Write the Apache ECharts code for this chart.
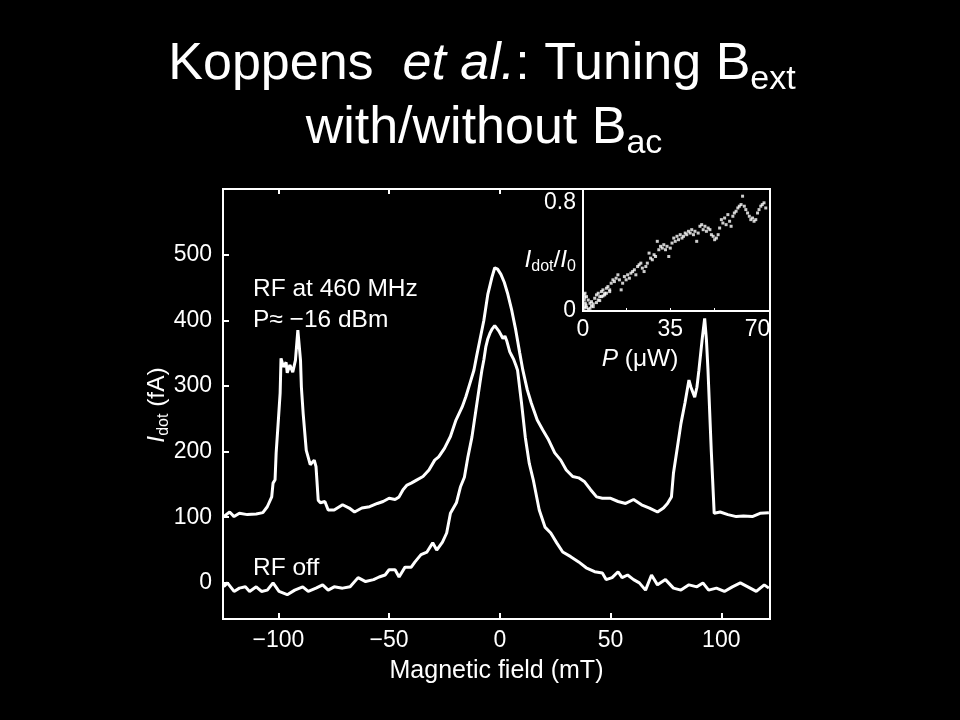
<!DOCTYPE html>
<html><head><meta charset="utf-8">
<script src="https://cdn.jsdelivr.net/npm/echarts@6/dist/echarts.min.js"></script>
<style>html,body{margin:0;padding:0;background:#000;}#c{width:960px;height:720px;}</style>
</head><body><div id="c"></div>
<script>
// ---- data ----
const rfOnField = [-124.7,-122,-120,-117.6,-114,-110,-107,-105,-103,-102.4,-101.5,-101,-100,-99.2,-98.8,-97.7,-96.5,-96,-94.8,-93.5,-92.3,-91.2,-90,-89.6,-88.8,-87.4,-85.6,-83.8,-83,-82,-81,-79,-77.5,-74.8,-71,-68,-65.6,-62.3,-58.8,-55.3,-52.7,-50,-47.3,-45.5,-43.7,-41.9,-40,-37.4,-34.7,-32,-29.4,-27.6,-25,-22.3,-19.8,-17,-15.3,-13.5,-11.7,-10.5,-9,-7.2,-5.4,-3.6,-2.3,-1,0.5,2,3.6,5.4,7.2,9,10.4,12.4,14.2,16.9,19.4,22,24.8,27.5,30,32.9,35.6,38.3,41,43.7,46.3,49.8,53.4,56.8,60.4,64,67.6,71.2,73.9,75.7,77.5,78.4,80.2,81.8,83.6,85.4,86.3,88,89,89.9,91.5,92.5,93.3,94,95.5,96.8,99.5,103,106.8,110,114,117.5,121.5];
const rfOnCurrent = [101,108,101,106,104,105,107,116,131,152,157,198,248,289,342,329,336,320,332,321,339,385,339,298,258,202,180,187,177,126,122,124,111,111,119,114,108,114,116,121,124,129,127,131,142,149,152,157,162,172,187,192,205,223,248,268,284,304,324,345,370,400,440,465,480,478,470,458,440,415,385,350,324,294,274,248,233,218,198,187,172,162,160,154,142,131,129,129,124,121,127,119,114,108,114,121,131,167,207,243,274,309,298,283,298,324,375,403,370,324,200,106,108,104,101,102,101,106,107];
const rfOffField = [-124.7,-123,-120,-117.6,-114.9,-113,-110,-107.6,-105,-102.4,-99.7,-96,-92.6,-89,-86.5,-83,-80,-77.5,-74.8,-71,-67.6,-64,-60.6,-57,-54.5,-51.8,-50,-47.3,-45.5,-42.8,-40,-38.3,-35.6,-32.9,-30.3,-28.5,-25.9,-24,-22.3,-19.6,-17.8,-16,-14.4,-12.6,-10.8,-9,-8.1,-7.2,-6.3,-5.4,-4.5,-3.6,-2.3,-1.4,-0.5,0.5,1.4,2.3,3.2,4.5,5.4,6.3,7.2,8,9.8,11.5,13.3,15.1,17.8,20.4,23,25.7,28.4,32,35.6,39,42.8,46.3,48,50.7,53.4,55.2,57.7,60.4,63,65.8,68.5,71.2,74.8,78.4,81.8,85.4,89,91.7,94.3,97.8,101.4,105,108.6,112,115.8,119.4,121.5];
const rfOffCurrent = [-6,0,-13,-8,-6,-13,-6,-13,-11,0,-13,-18,-11,-6,-13,-8,-3,-11,-6,-8,-6,8,2,5,9,12,20,20,9,24,24,32,43,47,61,50,62,76,106,122,146,161,192,222,263,304,324,340,360,372,380,386,392,390,384,378,372,376,368,352,346,340,332,324,274,222,182,157,111,85,76,61,47,40,32,23,17,15,5,8,17,8,12,5,0,-11,12,-3,5,-8,-11,-3,-6,0,-11,-8,-13,-6,0,-6,-13,-3,-8];
const insetPower = [0.8,1.4,2.1,1.2,2.8,3.4,4.1,4.7,5.4,6.1,6.7,7.4,8.0,8.7,9.4,10.0,10.7,11.3,12.0,12.6,13.3,14.0,14.6,15.3,15.9,16.6,17.3,17.9,18.6,19.2,19.9,20.6,21.2,21.9,22.5,23.2,23.8,24.5,25.2,25.8,26.5,27.1,27.8,28.5,29.1,29.8,30.4,31.1,31.8,32.4,33.1,33.7,34.4,35.0,35.7,36.4,37.0,37.7,38.3,39.0,39.7,40.3,41.0,41.6,42.3,43.0,43.6,44.3,44.9,45.6,46.2,46.9,47.6,48.2,48.9,49.5,50.2,50.9,51.5,52.2,52.8,53.5,54.2,54.8,55.5,56.1,56.8,57.4,58.1,58.8,59.4,60.1,60.7,61.4,62.1,62.7,63.4,64.0,64.7,65.3,66.0,66.7,67.3,68.0,68.6,69.3,70.0,70.6,71.3,71.9,72.6,73.3,0.4,0.7,0.9,1.4,2.1,2.8,3.4,4.1,5.4,6.1,6.7,7.4,8.0,8.7,9.4,10.7,0.4,0.5,0.7];
const insetRatio = [0.131,0.106,0.081,0.044,0.057,0.069,0.032,0.094,0.119,0.131,0.106,0.143,0.156,0.131,0.168,0.180,0.156,0.205,0.230,0.217,0.242,0.267,0.230,0.156,0.205,0.254,0.230,0.267,0.242,0.279,0.291,0.304,0.267,0.328,0.341,0.353,0.316,0.291,0.328,0.353,0.427,0.390,0.378,0.415,0.402,0.514,0.452,0.477,0.464,0.489,0.452,0.477,0.402,0.464,0.501,0.538,0.514,0.551,0.526,0.563,0.538,0.551,0.575,0.563,0.588,0.575,0.600,0.563,0.588,0.514,0.575,0.625,0.637,0.600,0.625,0.588,0.612,0.600,0.563,0.551,0.526,0.538,0.563,0.612,0.674,0.649,0.686,0.637,0.711,0.662,0.625,0.699,0.723,0.736,0.760,0.773,0.785,0.847,0.773,0.748,0.723,0.699,0.674,0.686,0.662,0.674,0.723,0.748,0.773,0.785,0.798,0.760,0.020,0.032,0.057,0.027,0.012,0.020,0.037,0.052,0.062,0.081,0.077,0.106,0.111,0.119,0.131,0.143,0.119,0.081,0.101];
const xTicks = [-100,-50,0,50,100];
const yTicks = [0,100,200,300,400,500];
const insetXLabels = [0,35,70];
const insetXTicks = [17.5,35,52.5];
const insetYLabels = [0,0.8];

// ---- helpers ----
const FONT = '"Liberation Sans", Arial, Helvetica, sans-serif';
const mctx = document.createElement('canvas').getContext('2d');
function tw(t, s, it){ mctx.font = (it?'italic ':'') + s + 'px ' + FONT; return mctx.measureText(t).width; }
function runs(parts, x, y, align){
  let w = 0; parts.forEach(p => w += tw(p.t, p.s, p.it));
  let cx = align === 'center' ? x - w/2 : (align === 'right' ? x - w : x);
  const out = [];
  parts.forEach(p => {
    out.push({type:'text', x: cx, y: y + (p.dy||0), z: 100,
      style:{text:p.t, fontSize:p.s, fontFamily:FONT, fontStyle:p.it?'italic':'normal', fill:'#fff',
        textAlign:'left', align:'left', textVerticalAlign:'middle', verticalAlign:'middle'}});
    cx += tw(p.t, p.s, p.it);
  });
  return out;
}
const zip = (a,b) => a.map((v,i) => [v, b[i]]);
const minus = v => v < 0 ? '\u2212' + Math.abs(v) : String(v);

const TS = 23, AS = 24.5;
const graphics = [].concat(
  runs([{t:'Koppens  ',s:52},{t:'et al.',s:52,it:true},{t:': Tuning B',s:52},{t:'ext',s:34,dy:15}], 482, 65, 'center'),
  runs([{t:'with/without B',s:52},{t:'ac',s:34,dy:15}], 484, 129, 'center'),
  runs([{t:'RF at 460 MHz',s:AS}], 253, 289, 'left'),
  runs([{t:'P\u2248 \u221216 dBm',s:AS}], 253, 320, 'left'),
  runs([{t:'RF off',s:AS}], 253, 568, 'left'),
  runs([{t:'I',s:AS,it:true},{t:'dot',s:16,dy:7},{t:'/',s:AS},{t:'I',s:AS,it:true},{t:'0',s:16,dy:7}], 576, 260, 'right'),
  runs([{t:'P',s:AS,it:true},{t:' (\u03bcW)',s:AS}], 640, 359, 'center'),
  [{type:'group', x:157, y:405, rotation:Math.PI/2, children:
     runs([{t:'I',s:AS,it:true},{t:'dot',s:16,dy:7},{t:' (fA)',s:AS}], 0, 0, 'center')}]
);

const axisCommon = {
  axisLine:{show:false, onZero:false}, splitLine:{show:false},
  axisTick:{inside:true, length:6, lineStyle:{color:'#fff', width:2}},
  axisLabel:{color:'#fff', fontSize:TS, fontFamily:FONT}
};

const chart = echarts.init(document.getElementById('c'), null, {renderer:'canvas'});
chart.setOption({
  backgroundColor:'#000',
  animation:false,
  grid:[
    {left:223, top:189, width:547, height:430, show:true, borderColor:'#fff', borderWidth:2, backgroundColor:'transparent'},
    {left:583, top:189, width:187, height:122, show:true, borderColor:'#fff', borderWidth:2, backgroundColor:'#000', z:5}
  ],
  xAxis:[
    {gridIndex:0, type:'value', min:-125, max:122, position:'bottom', ...axisCommon,
     axisTick:{...axisCommon.axisTick, customValues:xTicks},
     axisLabel:{...axisCommon.axisLabel, customValues:xTicks, margin:10, formatter:minus},
     name:'Magnetic field (mT)', nameLocation:'middle', nameGap:40,
     nameTextStyle:{color:'#fff', fontSize:25, fontFamily:FONT}},
    {gridIndex:0, type:'value', min:-125, max:122, position:'top', ...axisCommon,
     axisTick:{...axisCommon.axisTick, length:5, customValues:xTicks},
     axisLabel:{show:false}},
    {gridIndex:1, type:'value', min:0, max:75, position:'bottom', ...axisCommon, z:6,
     axisTick:{inside:true, length:3, lineStyle:{color:'#fff', width:1}, customValues:insetXTicks},
     axisLabel:{...axisCommon.axisLabel, customValues:insetXLabels, margin:7}}
  ],
  yAxis:[
    {gridIndex:0, type:'value', min:-55, max:600, position:'left', ...axisCommon,
     axisTick:{...axisCommon.axisTick, customValues:yTicks},
     axisLabel:{...axisCommon.axisLabel, customValues:yTicks, margin:11}},
    {gridIndex:1, type:'value', min:0, max:0.9, position:'left', ...axisCommon, z:6,
     axisTick:{show:false},
     axisLabel:{...axisCommon.axisLabel, customValues:insetYLabels, margin:7,
       formatter: v => v === 0 ? '0' : String(v)}}
  ],
  series:[
    {type:'line', name:'RF at 460 MHz', xAxisIndex:0, yAxisIndex:0, data:zip(rfOnField, rfOnCurrent),
     showSymbol:false, lineStyle:{color:'#fff', width:3}, z:3},
    {type:'line', name:'RF off', xAxisIndex:0, yAxisIndex:0, data:zip(rfOffField, rfOffCurrent),
     showSymbol:false, lineStyle:{color:'#fff', width:3}, z:3},
    {type:'scatter', name:'Idot/I0', xAxisIndex:2, yAxisIndex:1, data:zip(insetPower, insetRatio),
     symbol:'rect', symbolSize:3, itemStyle:{color:'#fff'}, z:7}
  ],
  graphic: graphics
});
</script>
</body></html>
